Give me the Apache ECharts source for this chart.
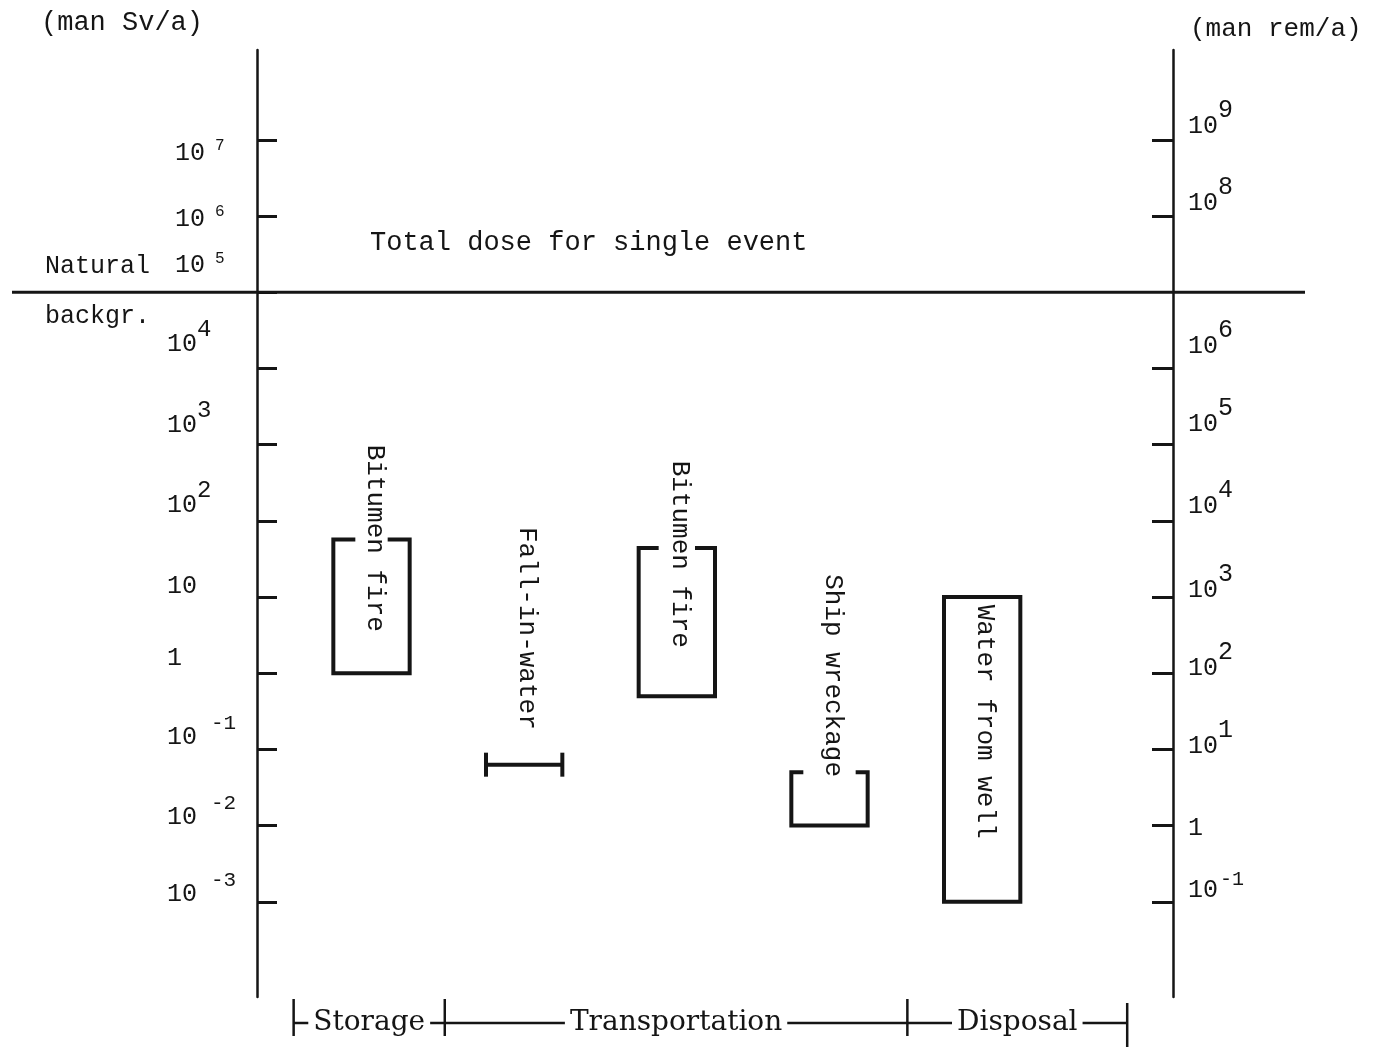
<!DOCTYPE html>
<html lang="en">
<head>
    <meta charset="UTF-8">
    <title>Collective dose for single events</title>
    <script src="https://cdn.jsdelivr.net/npm/echarts@6/dist/echarts.min.js"></script>
    <style>html, body {margin: 0; background: #fff;}</style>
</head>
<body>
    <div id="main" style="width: 1380px;height:1049px;"></div>
    <script type="text/javascript">
        // events and their collective dose range (man Sv/a)
        var events = ['Bitumen fire', 'Fall-in-water', 'Bitumen fire', 'Ship wreckage', 'Water from well'];
        var doseHigh = [57, 0.063, 44, 0.05, 10];
        var doseLow = [1, 0.063, 0.5, 0.01, 0.001];
        var naturalBackground = 1e5;
        var stages = ['Storage', 'Transportation', 'Disposal'];
        // tick labels, as powers of ten
        var svTicks = [-3, -2, -1, 0, 1, 2, 3, 4, 5, 6, 7];
        var remTicks = [-1, 0, 1, 2, 3, 4, 5, 6, 8, 9];

        // layout only
        var boxShape = ['bracket', 'beam', 'bracket', 'bracket', 'box'];
        var hookLen = [22, 0, 20, 12, 0];
        var captionTop = [3.0, 1.92, 2.79, 1.30, 0.90];   // log10 value where each caption starts
        var stageEdges = [0.24, 1.23, 4.26, 5.7];          // x units, 1 unit = one column
        var SV_MIN = -4.25, SV_MAX = 8.18;                 // log10(man Sv/a) at axis ends
        var INK = '#151515';
        var MONO = '"Liberation Mono", "DejaVu Sans Mono", monospace';

        // vertical shift of the digits against the tick, and superscript settings
        var leftShift = {7: 13, 6: 3, 5: -27, 4: -24, 3: -19, 2: -15, 1: -11, 0: -15, '-1': -12, '-2': -8, '-3': -7};
        var rightShift = {9: -14, 8: -13, 6: -22, 5: -20, 4: -14, 3: -7, 2: -5, 1: -3, 0: 3, '-1': -11};

        function leftSup(e) {
            if (e >= 5) return {size: 16, raise: 7, gap: 10, lead: 8};
            if (e >= 2) return {size: 24, raise: 15, gap: 0, lead: 0};
            return {size: 21, raise: 14, gap: 14, lead: 0};
        }
        function rightSup(e) {
            if (e < 0) return {size: 20, raise: 11, gap: 2, lead: 0};
            return {size: 25, raise: 16, gap: 0, lead: 0};
        }
        function pad(shift, left) {
            return shift > 0 ? [2 * shift, 0, 0, left] : [0, 0, -2 * shift, left];
        }
        function makeRich(exps, shifts, supOf) {
            var rich = {};
            exps.forEach(function (e) {
                var s = shifts[e], sp = supOf(e);
                rich['d' + (e + 10)] = {fontSize: 25, fontFamily: MONO, color: INK, padding: pad(s, sp.lead)};
                rich['s' + (e + 10)] = {fontSize: sp.size, fontFamily: MONO, color: INK, padding: pad(s - sp.raise, sp.gap)};
            });
            return rich;
        }
        function powerLabel(value, plainTen) {
            var e = Math.round(value), k = e + 10;
            if (e === 0) return '{d' + k + '|1}';
            if (e === 1 && plainTen) return '{d' + k + '|10}';
            return '{d' + k + '|10}{s' + k + '|' + e + '}';
        }

        function renderDivider(params, api) {
            var p = api.coord([api.value(0), api.value(1)]);
            var cs = params.coordSys;
            return {
                type: 'line',
                shape: {x1: cs.x - 245, y1: p[1], x2: cs.x + cs.width + 132, y2: p[1]},
                style: {stroke: INK, lineWidth: 3}
            };
        }

        function renderRange(params, api) {
            var i = api.value(0);
            var a = api.coord([i + 0.5, api.value(2)]);
            var b = api.coord([i + 1.0, api.value(1)]);
            var x0 = a[0], x1 = b[0], y0 = a[1], y1 = b[1];
            var st = {stroke: INK, lineWidth: 4, fill: null, lineJoin: 'miter'};
            var kids = [];
            if (boxShape[i] === 'beam') {
                kids.push({type: 'line', shape: {x1: x0, y1: y0, x2: x1, y2: y0}, style: st});
                kids.push({type: 'line', shape: {x1: x0, y1: y0 - 12, x2: x0, y2: y0 + 12}, style: st});
                kids.push({type: 'line', shape: {x1: x1, y1: y0 - 12, x2: x1, y2: y0 + 12}, style: st});
            } else if (boxShape[i] === 'box') {
                kids.push({type: 'rect', shape: {x: x0, y: y0, width: x1 - x0, height: y1 - y0}, style: st});
            } else {
                var h = hookLen[i];
                kids.push({type: 'polyline', shape: {points: [[x0 + h, y0], [x0, y0], [x0, y1], [x1, y1], [x1, y0], [x1 - h, y0]]}, style: st});
            }
            var c = api.coord([i + 0.75, captionTop[i]]);
            kids.push({
                type: 'text', x: c[0] + 3, y: c[1], rotation: -Math.PI / 2,
                style: {text: events[i], font: '26px ' + MONO, fill: INK,
                        align: 'left', textAlign: 'left', verticalAlign: 'middle', textVerticalAlign: 'middle'}
            });
            return {type: 'group', children: kids};
        }

        function renderStage(params, api) {
            var a = api.coord([api.value(0), 0]);
            var b = api.coord([api.value(1), 0]);
            var y = params.coordSys.y + params.coordSys.height + 26;
            var st = {stroke: INK, lineWidth: 2.5};
            var kids = [
                {type: 'line', shape: {x1: a[0], y1: y, x2: b[0], y2: y}, style: st},
                {type: 'line', shape: {x1: a[0], y1: y - 24, x2: a[0], y2: y + 13}, style: st},
                {type: 'text', x: (a[0] + b[0]) / 2, y: y,
                 style: {text: stages[params.dataIndex], font: '28px "DejaVu Serif", serif', fill: INK,
                         backgroundColor: '#fff', padding: [0, 5],
                         align: 'center', textAlign: 'center', verticalAlign: 'middle', textVerticalAlign: 'middle'}}
            ];
            if (params.dataIndex === stages.length - 1) {
                kids.push({type: 'line', shape: {x1: b[0], y1: y - 20, x2: b[0], y2: y + 24}, style: st});
            }
            return {type: 'group', children: kids};
        }

        var rangeData = events.map(function (n, i) {
            return [i, Math.log10(doseLow[i]), Math.log10(doseHigh[i])];
        });
        var stageData = stages.map(function (s, i) {
            return [stageEdges[i], stageEdges[i + 1]];
        });

        var myChart = echarts.init(document.getElementById('main'));

        var option = {
            backgroundColor: '#fff',
            animation: false,
            grid: {left: 257, right: 207, top: 50, bottom: 52},
            xAxis: {type: 'value', min: 0, max: 6, show: false},
            yAxis: [{
                type: 'value', position: 'left', min: SV_MIN, max: SV_MAX,
                name: '(man Sv/a)', nameLocation: 'end', nameGap: 14,
                nameTextStyle: {color: INK, fontFamily: MONO, fontSize: 27, align: 'right', padding: [0, 54, 0, 0]},
                axisLine: {show: true, onZero: false, lineStyle: {color: INK, width: 2.5}},
                axisTick: {show: true, inside: true, length: 20, customValues: svTicks, lineStyle: {color: INK, width: 3}},
                axisLabel: {
                    customValues: svTicks, align: 'left', margin: 90, verticalAlign: 'middle',
                    formatter: function (v) { return powerLabel(v, true); },
                    rich: makeRich(svTicks, leftShift, leftSup)
                },
                splitLine: {show: false}
            }, {
                type: 'value', position: 'right', min: SV_MIN + 2, max: SV_MAX + 2,
                name: '(man rem/a)', nameLocation: 'end', nameGap: 8,
                nameTextStyle: {color: INK, fontFamily: MONO, fontSize: 26, align: 'left', padding: [0, 0, 0, 17]},
                axisLine: {show: true, onZero: false, lineStyle: {color: INK, width: 2.5}},
                axisTick: {show: true, inside: true, length: 21, customValues: remTicks, lineStyle: {color: INK, width: 3}},
                axisLabel: {
                    customValues: remTicks, align: 'left', margin: 15, verticalAlign: 'middle',
                    formatter: function (v) { return powerLabel(v, false); },
                    rich: makeRich(remTicks, rightShift, rightSup)
                },
                splitLine: {show: false}
            }],
            graphic: [
                {type: 'text', x: 45, y: 266, style: {text: 'Natural', font: '25px ' + MONO, fill: INK, verticalAlign: 'middle', textVerticalAlign: 'middle'}},
                {type: 'text', x: 45, y: 316, style: {text: 'backgr.', font: '25px ' + MONO, fill: INK, verticalAlign: 'middle', textVerticalAlign: 'middle'}},
                {type: 'text', x: 370, y: 243, style: {text: 'Total dose for single event', font: '27px ' + MONO, fill: INK, verticalAlign: 'middle', textVerticalAlign: 'middle'}}
            ],
            series: [{
                name: 'natural background', type: 'custom', silent: true,
                renderItem: renderDivider,
                data: [[0, Math.log10(naturalBackground)]]
            }, {
                name: 'dose range', type: 'custom', silent: true,
                renderItem: renderRange,
                encode: {x: 0, y: [1, 2]},
                data: rangeData
            }, {
                name: 'stage', type: 'custom', silent: true,
                renderItem: renderStage,
                encode: {x: [0, 1]},
                data: stageData
            }]
        };

        myChart.setOption(option);
    </script>
</body>
</html>
